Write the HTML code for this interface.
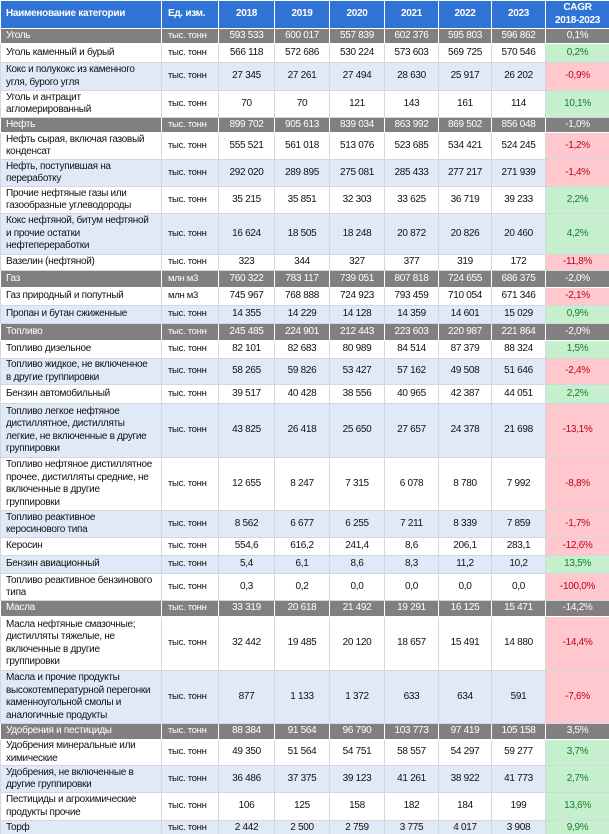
<!DOCTYPE html>
<html><head><meta charset="utf-8">
<style>
html,body{margin:0;padding:0;background:#fff;width:609px;height:834px;overflow:hidden}
table{border-collapse:collapse;table-layout:fixed;width:609px;font-family:"Liberation Sans",sans-serif;font-size:10px;letter-spacing:-0.3px;color:#111}
td{border:1px solid #d4d8de;padding:0 3px;text-align:center;line-height:12.5px;overflow:hidden;white-space:nowrap}
td.n{text-align:left;padding-left:5px}
td.u{text-align:left;padding-left:6px;font-size:9.5px}
tr.h td{background:#2f73d6;color:#fff;font-weight:bold;border-color:#fff}
tr.c td{background:#808080;color:#fff;border-color:#fff}
tr.b td{background:#dfe9f8}
td.g{background:#c6efce!important;color:#12802a}
td.r{background:#ffc7ce!important;color:#c0001a}
</style></head><body>
<table>
<colgroup><col style="width:161px"><col style="width:57px"><col style="width:56px"><col style="width:55px"><col style="width:55px"><col style="width:54px"><col style="width:53px"><col style="width:54px"><col style="width:64px"></colgroup>
<tr class="h" style="height:28px"><td class="n">Наименование категории</td><td class="u" style="font-size:10px">Ед. изм.</td><td>2018</td><td>2019</td><td>2020</td><td>2021</td><td>2022</td><td>2023</td><td>CAGR<br>2018-2023</td></tr>
<tr class="c" style="height:15px"><td class="n">Уголь</td><td class="u">тыс. тонн</td><td>593 533</td><td>600 017</td><td>557 839</td><td>602 376</td><td>595 803</td><td>596 862</td><td>0,1%</td></tr>
<tr style="height:19px"><td class="n">Уголь каменный и бурый</td><td class="u">тыс. тонн</td><td>566 118</td><td>572 686</td><td>530 224</td><td>573 603</td><td>569 725</td><td>570 546</td><td class="g">0,2%</td></tr>
<tr class="b" style="height:28px"><td class="n">Кокс и полукокс из каменного<br>угля, бурого угля</td><td class="u">тыс. тонн</td><td>27 345</td><td>27 261</td><td>27 494</td><td>28 630</td><td>25 917</td><td>26 202</td><td class="r">-0,9%</td></tr>
<tr style="height:27px"><td class="n">Уголь и антрацит<br>агломерированный</td><td class="u">тыс. тонн</td><td>70</td><td>70</td><td>121</td><td>143</td><td>161</td><td>114</td><td class="g">10,1%</td></tr>
<tr class="c" style="height:15px"><td class="n">Нефть</td><td class="u">тыс. тонн</td><td>899 702</td><td>905 613</td><td>839 034</td><td>863 992</td><td>869 502</td><td>856 048</td><td>-1,0%</td></tr>
<tr style="height:27px"><td class="n">Нефть сырая, включая газовый<br>конденсат</td><td class="u">тыс. тонн</td><td>555 521</td><td>561 018</td><td>513 076</td><td>523 685</td><td>534 421</td><td>524 245</td><td class="r">-1,2%</td></tr>
<tr class="b" style="height:27px"><td class="n">Нефть, поступившая на<br>переработку</td><td class="u">тыс. тонн</td><td>292 020</td><td>289 895</td><td>275 081</td><td>285 433</td><td>277 217</td><td>271 939</td><td class="r">-1,4%</td></tr>
<tr style="height:27px"><td class="n">Прочие нефтяные газы или<br>газообразные углеводороды</td><td class="u">тыс. тонн</td><td>35 215</td><td>35 851</td><td>32 303</td><td>33 625</td><td>36 719</td><td>39 233</td><td class="g">2,2%</td></tr>
<tr class="b" style="height:41px"><td class="n">Кокс нефтяной, битум нефтяной<br>и прочие остатки<br>нефтепереработки</td><td class="u">тыс. тонн</td><td>16 624</td><td>18 505</td><td>18 248</td><td>20 872</td><td>20 826</td><td>20 460</td><td class="g">4,2%</td></tr>
<tr style="height:16px"><td class="n">Вазелин (нефтяной)</td><td class="u">тыс. тонн</td><td>323</td><td>344</td><td>327</td><td>377</td><td>319</td><td>172</td><td class="r">-11,8%</td></tr>
<tr class="c" style="height:17px"><td class="n">Газ</td><td class="u">млн м3</td><td>760 322</td><td>783 117</td><td>739 051</td><td>807 818</td><td>724 655</td><td>686 375</td><td>-2,0%</td></tr>
<tr style="height:18px"><td class="n">Газ природный и попутный</td><td class="u">млн м3</td><td>745 967</td><td>768 888</td><td>724 923</td><td>793 459</td><td>710 054</td><td>671 346</td><td class="r">-2,1%</td></tr>
<tr class="b" style="height:18px"><td class="n">Пропан и бутан сжиженные</td><td class="u">тыс. тонн</td><td>14 355</td><td>14 229</td><td>14 128</td><td>14 359</td><td>14 601</td><td>15 029</td><td class="g">0,9%</td></tr>
<tr class="c" style="height:17px"><td class="n">Топливо</td><td class="u">тыс. тонн</td><td>245 485</td><td>224 901</td><td>212 443</td><td>223 603</td><td>220 987</td><td>221 864</td><td>-2,0%</td></tr>
<tr style="height:18px"><td class="n">Топливо дизельное</td><td class="u">тыс. тонн</td><td>82 101</td><td>82 683</td><td>80 989</td><td>84 514</td><td>87 379</td><td>88 324</td><td class="g">1,5%</td></tr>
<tr class="b" style="height:26px"><td class="n">Топливо жидкое, не включенное<br>в другие группировки</td><td class="u">тыс. тонн</td><td>58 265</td><td>59 826</td><td>53 427</td><td>57 162</td><td>49 508</td><td>51 646</td><td class="r">-2,4%</td></tr>
<tr style="height:19px"><td class="n">Бензин автомобильный</td><td class="u">тыс. тонн</td><td>39 517</td><td>40 428</td><td>38 556</td><td>40 965</td><td>42 387</td><td>44 051</td><td class="g">2,2%</td></tr>
<tr class="b" style="height:54px"><td class="n">Топливо легкое нефтяное<br>дистиллятное, дистилляты<br>легкие, не включенные в другие<br>группировки</td><td class="u">тыс. тонн</td><td>43 825</td><td>26 418</td><td>25 650</td><td>27 657</td><td>24 378</td><td>21 698</td><td class="r">-13,1%</td></tr>
<tr style="height:53px"><td class="n">Топливо нефтяное дистиллятное<br>прочее, дистилляты средние, не<br>включенные в другие<br>группировки</td><td class="u">тыс. тонн</td><td>12 655</td><td>8 247</td><td>7 315</td><td>6 078</td><td>8 780</td><td>7 992</td><td class="r">-8,8%</td></tr>
<tr class="b" style="height:27px"><td class="n">Топливо реактивное<br>керосинового типа</td><td class="u">тыс. тонн</td><td>8 562</td><td>6 677</td><td>6 255</td><td>7 211</td><td>8 339</td><td>7 859</td><td class="r">-1,7%</td></tr>
<tr style="height:18px"><td class="n">Керосин</td><td class="u">тыс. тонн</td><td>554,6</td><td>616,2</td><td>241,4</td><td>8,6</td><td>206,1</td><td>283,1</td><td class="r">-12,6%</td></tr>
<tr class="b" style="height:18px"><td class="n">Бензин авиационный</td><td class="u">тыс. тонн</td><td>5,4</td><td>6,1</td><td>8,6</td><td>8,3</td><td>11,2</td><td>10,2</td><td class="g">13,5%</td></tr>
<tr style="height:27px"><td class="n">Топливо реактивное бензинового<br>типа</td><td class="u">тыс. тонн</td><td>0,3</td><td>0,2</td><td>0,0</td><td>0,0</td><td>0,0</td><td>0,0</td><td class="r">-100,0%</td></tr>
<tr class="c" style="height:16px"><td class="n">Масла</td><td class="u">тыс. тонн</td><td>33 319</td><td>20 618</td><td>21 492</td><td>19 291</td><td>16 125</td><td>15 471</td><td>-14,2%</td></tr>
<tr style="height:54px"><td class="n">Масла нефтяные смазочные;<br>дистилляты тяжелые, не<br>включенные в другие<br>группировки</td><td class="u">тыс. тонн</td><td>32 442</td><td>19 485</td><td>20 120</td><td>18 657</td><td>15 491</td><td>14 880</td><td class="r">-14,4%</td></tr>
<tr class="b" style="height:53px"><td class="n">Масла и прочие продукты<br>высокотемпературной перегонки<br>каменноугольной смолы и<br>аналогичные продукты</td><td class="u">тыс. тонн</td><td>877</td><td>1 133</td><td>1 372</td><td>633</td><td>634</td><td>591</td><td class="r">-7,6%</td></tr>
<tr class="c" style="height:16px"><td class="n">Удобрения и пестициды</td><td class="u">тыс. тонн</td><td>88 384</td><td>91 564</td><td>96 790</td><td>103 773</td><td>97 419</td><td>105 158</td><td>3,5%</td></tr>
<tr style="height:26px"><td class="n">Удобрения минеральные или<br>химические</td><td class="u">тыс. тонн</td><td>49 350</td><td>51 564</td><td>54 751</td><td>58 557</td><td>54 297</td><td>59 277</td><td class="g">3,7%</td></tr>
<tr class="b" style="height:27px"><td class="n">Удобрения, не включенные в<br>другие группировки</td><td class="u">тыс. тонн</td><td>36 486</td><td>37 375</td><td>39 123</td><td>41 261</td><td>38 922</td><td>41 773</td><td class="g">2,7%</td></tr>
<tr style="height:28px"><td class="n">Пестициды и агрохимические<br>продукты прочие</td><td class="u">тыс. тонн</td><td>106</td><td>125</td><td>158</td><td>182</td><td>184</td><td>199</td><td class="g">13,6%</td></tr>
<tr class="b" style="height:16px"><td class="n">Торф</td><td class="u">тыс. тонн</td><td>2 442</td><td>2 500</td><td>2 759</td><td>3 775</td><td>4 017</td><td>3 908</td><td class="g">9,9%</td></tr>
</table>
</body></html>
